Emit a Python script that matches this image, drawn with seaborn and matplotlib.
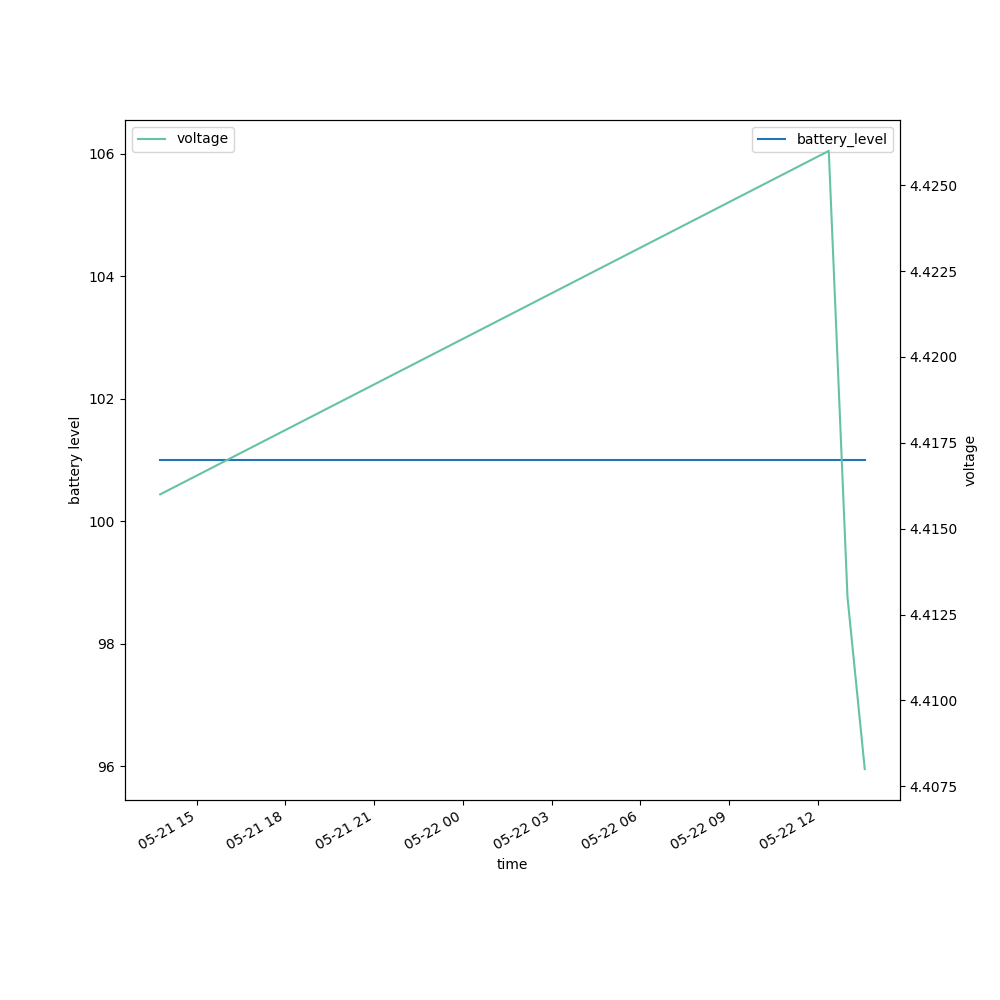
import pandas as pd
import matplotlib
matplotlib.use("Agg")
import matplotlib.pyplot as plt
import seaborn as sns

# readings
times = pd.to_datetime([
    "2024-05-21 13:46", "2024-05-22 12:22",
    "2024-05-22 13:00", "2024-05-22 13:35",
])
battery_level = [101, 101, 101, 101]
voltage = [4.416, 4.426, 4.413, 4.408]

VOLT_COL = sns.color_palette("Set2")[0]
BATT_COL = "#1f77b4"

df = pd.DataFrame({"time": times, "battery_level": battery_level,
                   "voltage": voltage})

fig, ax = plt.subplots(figsize=(10, 10), dpi=100)

sns.lineplot(data=df, x="time", y="battery_level", ax=ax,
             color=BATT_COL, label="battery_level")
ax.set_ylabel("battery level")
ax.legend(loc="upper right")

ax2 = ax.twinx()
sns.lineplot(data=df, x="time", y="voltage", ax=ax2,
             color=VOLT_COL, label="voltage")
ax2.set_ylabel("voltage")
ax2.legend(loc="upper left")

ax.set_xlabel("time")
fig.autofmt_xdate()

fig.savefig("out.png", dpi=100)
